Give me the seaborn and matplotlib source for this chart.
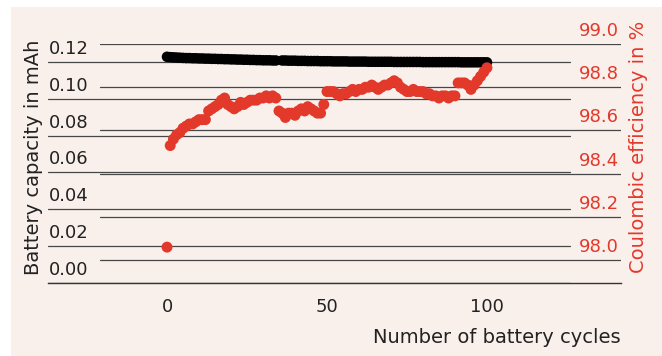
import matplotlib
matplotlib.use("Agg")
import matplotlib.pyplot as plt
import matplotlib.transforms as mtransforms
from matplotlib.patches import Rectangle
import seaborn as sns

# ---------------- data ----------------
capacity_cycles = list(range(0, 35)) + list(range(36, 101))
capacity_mah = [
    0.1228, 0.1226, 0.1225, 0.1224, 0.1223, 0.1222, 0.1221, 0.1221, 0.1220, 0.1220,
    0.1219, 0.1219, 0.1218, 0.1218, 0.1217, 0.1217, 0.1216, 0.1216, 0.1215, 0.1215,
    0.1214, 0.1214, 0.1213, 0.1213, 0.1212, 0.1212, 0.1211, 0.1211, 0.1210, 0.1210,
    0.1209, 0.1209, 0.1209, 0.1208, 0.1208,
    0.1208, 0.1208, 0.1207, 0.1207, 0.1207, 0.1206, 0.1206, 0.1206, 0.1205, 0.1205,
    0.1205, 0.1205, 0.1204, 0.1204, 0.1204, 0.1204, 0.1203, 0.1203, 0.1203, 0.1203,
    0.1203, 0.1202, 0.1202, 0.1202, 0.1202, 0.1202, 0.1202, 0.1201, 0.1201, 0.1201,
    0.1201, 0.1201, 0.1201, 0.1201, 0.1201, 0.1200, 0.1200, 0.1200, 0.1200, 0.1200,
    0.1200, 0.1200, 0.1200, 0.1200, 0.1199, 0.1199, 0.1199, 0.1199, 0.1199, 0.1199,
    0.1199, 0.1199, 0.1199, 0.1199, 0.1199, 0.1199, 0.1198, 0.1198, 0.1198, 0.1198,
    0.1198, 0.1198, 0.1198, 0.1198, 0.1198,
]

ce_cycles = list(range(0, 101))
coulombic_eff = [
    98.06,
    98.53, 98.56, 98.58, 98.59, 98.61, 98.62, 98.63, 98.63, 98.64, 98.65,
    98.65, 98.65, 98.69, 98.70, 98.71, 98.72, 98.74, 98.75, 98.72, 98.71,
    98.70, 98.71, 98.73, 98.72, 98.73, 98.74, 98.74, 98.74, 98.75, 98.75,
    98.76, 98.75, 98.76, 98.75, 98.69, 98.68, 98.66, 98.68, 98.68, 98.67,
    98.69, 98.70, 98.69, 98.71, 98.70, 98.69, 98.68, 98.68, 98.72, 98.78,
    98.78, 98.78, 98.77, 98.76, 98.77, 98.77, 98.78, 98.79, 98.78, 98.79,
    98.79, 98.80, 98.80, 98.81, 98.80, 98.79, 98.80, 98.81, 98.81, 98.82,
    98.83, 98.82, 98.80, 98.79, 98.78, 98.78, 98.79, 98.78, 98.78, 98.78,
    98.77, 98.77, 98.76, 98.76, 98.75, 98.76, 98.76, 98.75, 98.76, 98.76,
    98.82, 98.82, 98.82, 98.81, 98.79, 98.81, 98.83, 98.85, 98.87, 98.89,
]

left_ticks = [0.00, 0.02, 0.04, 0.06, 0.08, 0.10, 0.12]
left_tick_labels = ["0.00", "0.02", "0.04", "0.06", "0.08", "0.10", "0.12"]
right_ticks = [98.0, 98.2, 98.4, 98.6, 98.8, 99.0]
right_tick_labels = ["98.0", "98.2", "98.4", "98.6", "98.8", "99.0"]
x_ticks = [0, 50, 100]
x_tick_labels = ["0", "50", "100"]

x_label = "Number of battery cycles"
left_label = "Battery capacity in mAh"
right_label = "Coulombic efficiency in %"

# ---------------- style ----------------
sns.set_theme(style="white")
plt.rcParams["font.family"] = ["DejaVu Sans"]

RED = "#e2392b"
TXT = "#222222"
BG = "#f9f0ec"
GRID = "#474747"

fig = plt.figure(figsize=(6.62, 3.56), dpi=100, facecolor="white")
fig.patches.append(Rectangle((11 / 662, 0), 1 - 11 / 662, 1 - 7 / 356,
                             transform=fig.transFigure, facecolor=BG,
                             edgecolor="none", zorder=-10))

ax = fig.add_axes([48 / 662, 1 - 283 / 356, 573 / 662, 239 / 356])
ax.set_facecolor("none")
ax2 = ax.twinx()
ax2.set_facecolor("none")

ax.set_xlim(-37.2, 141.9)
ax.set_ylim(0.0, 0.12975)
ax2.set_ylim(97.894, 99.0)

# gridlines
for v in left_ticks:
    ax.axhline(v, xmin=0.0, xmax=0.911, color=GRID, lw=0.9, zorder=0.5)
for v in right_ticks:
    ax2.axhline(v, xmin=0.0908, xmax=1.0, color=GRID, lw=0.9, zorder=0.5)

# data
sns.scatterplot(x=capacity_cycles, y=capacity_mah, ax=ax, color="black",
                s=58, linewidth=0, edgecolor="none", legend=False, zorder=3)
sns.scatterplot(x=ce_cycles, y=coulombic_eff, ax=ax2, color=RED,
                s=62, linewidth=0, edgecolor="none", legend=False, zorder=3)

# spines
for sp in ax.spines.values():
    sp.set_visible(False)
for sp in ax2.spines.values():
    sp.set_visible(False)
ax.spines["bottom"].set_visible(True)
ax.spines["bottom"].set_color("#333333")
ax.spines["bottom"].set_linewidth(1.0)

# x ticks
ax.set_xticks(x_ticks)
ax.set_xticklabels(x_tick_labels)
ax.tick_params(axis="x", length=0, pad=11, labelsize=13, labelcolor=TXT)
ax.set_yticks([])
ax2.set_yticks([])

# y tick labels inside plot, above lines
off = mtransforms.ScaledTranslation(0, 0.13, fig.dpi_scale_trans)
tl = mtransforms.blended_transform_factory(ax.transAxes, ax.transData) + off
for v, lab in zip(left_ticks, left_tick_labels):
    ax.text(0.002, v, lab, transform=tl, ha="left", va="center",
            fontsize=13, color=TXT)
tr = mtransforms.blended_transform_factory(ax2.transAxes, ax2.transData) + off
for v, lab in zip(right_ticks, right_tick_labels):
    ax2.text(0.9965, v, lab, transform=tr, ha="right", va="center",
             fontsize=13, color=RED)

# axis labels
ax.set_xlabel(x_label, fontsize=14, color=TXT)
ax.xaxis.label.set_ha("right")
ax.xaxis.label.set_va("center")
ax.xaxis.set_label_coords(0.9985, -0.226)

ax.set_ylabel(left_label, fontsize=14, color=TXT)
ax.yaxis.label.set_va("center")
ax.yaxis.label.set_ha("center")
ax.yaxis.set_label_coords(-0.026, 0.527)

ax2.set_ylabel(right_label, fontsize=14, color=RED, rotation=90)
ax2.yaxis.label.set_va("center")
ax2.yaxis.label.set_ha("center")
ax2.yaxis.set_label_coords(1.0297, 0.569)

fig.savefig("out.png", dpi=100, facecolor="white")
